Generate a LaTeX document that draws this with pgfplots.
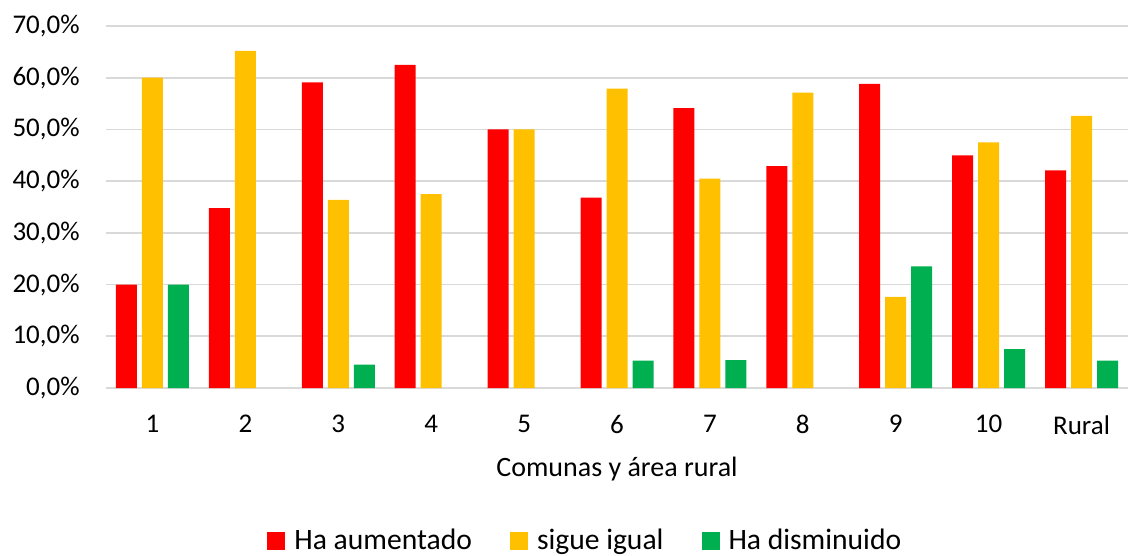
\documentclass[border=0pt]{standalone}
\usepackage{pgfplots}
\pgfplotsset{compat=1.18}
\usepackage{fontspec}
\setmainfont{Carlito}

\definecolor{cRed}{HTML}{FF0000}
\definecolor{cYel}{HTML}{FFC000}
\definecolor{cGrn}{HTML}{00B050}
\definecolor{cGrid}{HTML}{D9D9D9}

\begin{document}
\fontsize{13.5}{16}\selectfont
\begin{tikzpicture}
\useasboundingbox (-53pt,-84pt) rectangle (511.5pt,194pt);
\begin{axis}[
  at={(0,0)}, anchor=south west,
  scale only axis, width=511pt, height=181pt,
  ybar=2.5pt, bar width=10.5pt,
  xmin=-0.5, xmax=10.5, ymin=0, ymax=70,
  xtick={0,...,10},
  xticklabels={1,2,3,4,5,6,7,8,9,10,Rural},
  ytick={0,10,...,70},
  yticklabel={\pgfmathprintnumber{\tick}\%},
  /pgf/number format/.cd, fixed, fixed zerofill, precision=1, use comma, assume math mode=true,
  /pgfplots/.cd,
  major tick length=0pt,
  axis line style={draw=none},
  ymajorgrids, grid style={cGrid, line width=0.9pt},
  xticklabel style={yshift=-9pt},
  yticklabel style={xshift=-8.5pt},
  xlabel={Comunas y área rural},
  xlabel style={yshift=-2pt, font=\fontsize{14}{16}\selectfont},
  legend style={draw=none, at={(0.47,-0.423)}, anchor=center, inner sep=1pt,
    font=\fontsize{14.8}{17}\selectfont,
    legend columns=-1,
    /tikz/every odd column/.append style={column sep=2.5pt},
    /tikz/every even column/.append style={column sep=17pt}},
  legend image code/.code={\fill (0pt,-4.5pt) rectangle (9pt,4.5pt);},
]
\addplot[fill=cRed, draw=none] coordinates {(0,20.0) (1,34.8) (2,59.1) (3,62.5) (4,50.0) (5,36.8) (6,54.1) (7,42.9) (8,58.8) (9,45.0) (10,42.1)};
\addplot[fill=cYel, draw=none] coordinates {(0,60.0) (1,65.2) (2,36.4) (3,37.5) (4,50.0) (5,57.9) (6,40.5) (7,57.1) (8,17.6) (9,47.5) (10,52.6)};
\addplot[fill=cGrn, draw=none] coordinates {(0,20.0) (2,4.5) (5,5.3) (6,5.4) (8,23.5) (9,7.5) (10,5.3)};
\legend{Ha aumentado, sigue igual, Ha disminuido}
\end{axis}
\end{tikzpicture}
\end{document}
